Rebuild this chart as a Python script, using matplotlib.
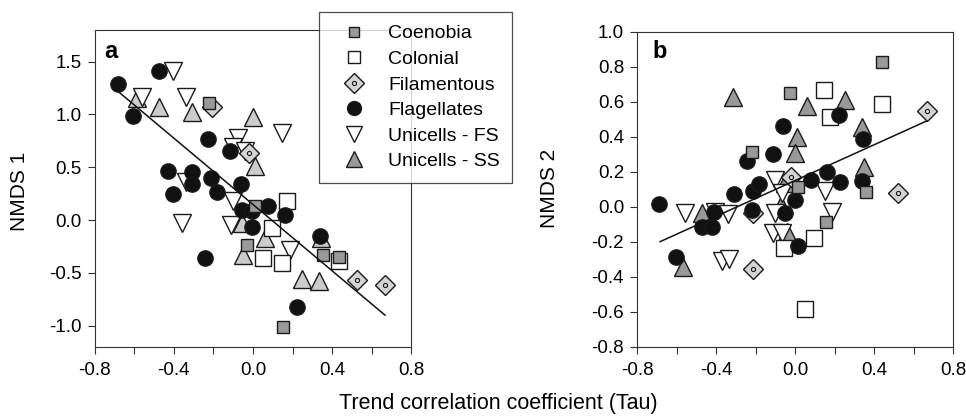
import matplotlib
matplotlib.use('Agg')
import matplotlib.pyplot as plt
from matplotlib.lines import Line2D
import numpy as np

plt.rcParams['font.family'] = ['Liberation Sans', 'DejaVu Sans']
plt.rcParams['font.size'] = 13.5

# --- panel a: Tau vs NMDS 1 ---
coen_a_x = [-0.221, 0.010, -0.029, 0.355, 0.436, 0.153]
coen_a_y = [1.107, 0.129, -0.233, -0.334, -0.353, -1.016]
colo_a_x = [0.173, 0.094, 0.049, 0.145, 0.436]
colo_a_y = [0.177, -0.076, -0.360, -0.407, -0.391]
fila_a_x = [-0.209, -0.019, 0.524, 0.667]
fila_a_y = [1.069, 0.634, -0.565, -0.612]
flag_a_x = [-0.680, -0.473, -0.605, -0.226, -0.116, -0.428, -0.310, -0.310, -0.406, -0.214,
            -0.184, -0.062, -0.057, -0.005, 0.077, 0.162, -0.003, -0.243, 0.339, 0.221]
flag_a_y = [1.287, 1.413, 0.981, 0.770, 0.656, 0.467, 0.454, 0.341, 0.246, 0.397,
            0.265, 0.341, 0.098, 0.085, 0.129, 0.050, -0.069, -0.360, -0.155, -0.826]
ufs_a_x = [-0.406, -0.562, -0.339, -0.074, -0.103, -0.040, 0.148, -0.339, -0.360, -0.099, -0.111, 0.187]
ufs_a_y = [1.407, 1.164, 1.161, 0.776, 0.688, 0.656, 0.823, 0.360, -0.028, 0.177, -0.044, -0.281]
uss_a_x = [-0.588, -0.473, -0.310, -0.002, 0.010, -0.057, 0.061, -0.052, 0.246, 0.333, 0.344]
uss_a_y = [1.155, 1.066, 1.022, 0.972, 0.508, -0.028, -0.170, -0.328, -0.555, -0.580, -0.170]
fit_a = (0.147, -1.571)  # intercept, slope
fit_a_range = (-0.675, 0.667)

# --- panel b: Tau vs NMDS 2 ---
coen_b_x = [0.440, -0.027, -0.218, 0.012, 0.358, 0.155]
coen_b_y = [0.825, 0.651, 0.310, 0.114, 0.086, -0.090]
colo_b_x = [0.147, 0.439, 0.175, 0.095, -0.057, 0.049]
colo_b_y = [0.667, 0.587, 0.510, -0.177, -0.238, -0.587]
fila_b_x = [0.665, 0.522, -0.022, -0.213, -0.213]
fila_b_y = [0.549, 0.080, 0.171, -0.038, -0.358]
flag_b_x = [-0.689, -0.604, -0.471, -0.424, -0.410, -0.311, -0.243, -0.216, -0.182, -0.221, -0.111,
            -0.061, -0.052, -0.002, 0.015, 0.078, 0.159, 0.226, 0.223, 0.344, 0.336]
flag_b_y = [0.015, -0.286, -0.114, -0.114, -0.030, 0.072, 0.261, 0.091, 0.128, -0.019, 0.301,
            0.463, -0.034, 0.038, -0.223, 0.152, 0.200, 0.139, 0.524, 0.385, 0.149]
ufs_b_x = [-0.559, -0.407, -0.339, -0.370, -0.335, -0.103, -0.103, -0.111, -0.069, -0.069, 0.150, 0.184]
ufs_b_y = [-0.038, -0.029, -0.044, -0.310, -0.300, 0.152, -0.038, -0.152, -0.152, 0.076, 0.090, -0.029]
uss_b_x = [-0.314, -0.474, -0.570, 0.057, 0.251, 0.010, -0.002, 0.336, 0.348, -0.052, -0.074, -0.040]
uss_b_y = [0.625, -0.034, -0.347, 0.575, 0.610, 0.396, 0.305, 0.453, 0.229, 0.133, 0.010, -0.143]
fit_b = (0.150, 0.511)
fit_b_range = (-0.685, 0.665)

groups = ['Coenobia', 'Colonial', 'Filamentous', 'Flagellates', 'Unicells - FS', 'Unicells - SS']

GRAY = '#999999'
LIGHT = '#d4d4d4'
EDGE = '#1a1a1a'
styles = {
    'Coenobia': dict(marker='s', ms=8.5, mfc=GRAY),
    'Colonial': dict(marker='s', ms=11, mfc='white'),
    'Filamentous': dict(marker='D', ms=10, mfc=LIGHT),
    'Flagellates': dict(marker='o', ms=11, mfc='#111111'),
    'Unicells - FS': dict(marker='v', ms=13, mfc='white'),
    'Unicells - SS': dict(marker='^', ms=13, mfc=GRAY),
}
legend_ms = {'Coenobia': 7.5, 'Colonial': 9, 'Filamentous': 10,
             'Flagellates': 10, 'Unicells - FS': 12, 'Unicells - SS': 12}
ring = dict(ls='none', marker='o', ms=3, mfc=LIGHT, mec=EDGE, mew=0.8)


def draw_group(ax, name, xs, ys, z, fill=None):
    st = dict(styles[name])
    if fill is not None:
        st['mfc'] = fill
    ax.plot(xs, ys, ls='none', mec=EDGE, mew=1.0, zorder=z, **st)
    if name == 'Filamentous':
        # small ring in the middle of each diamond
        ax.plot(xs, ys, zorder=z + 0.1, **ring)


def style_axes(ax, ylim, yticks, ylabels):
    ax.set_xlim(-0.8, 0.8)
    ax.set_ylim(*ylim)
    ax.set_xticks(np.arange(-0.8, 0.81, 0.2))
    ax.set_xticklabels(['-0.8', '', '-0.4', '', '0.0', '', '0.4', '', '0.8'])
    ax.set_yticks(yticks)
    ax.set_yticklabels(ylabels)
    for s in ax.spines.values():
        s.set_color('#333333')
        s.set_linewidth(0.8)
    ax.tick_params(direction='out', length=5, width=0.8, color='#333333', labelsize=13.5)
    ax.tick_params(axis='x', pad=6)
    ax.tick_params(axis='y', pad=4.5)


def draw_panel(ax, data, fit, rng, uss_fill):
    order = ['Unicells - SS', 'Unicells - FS', 'Colonial', 'Filamentous', 'Flagellates', 'Coenobia']
    for i, name in enumerate(order):
        xs, ys = data[name]
        draw_group(ax, name, xs, ys, 3 + i, fill=uss_fill if name == 'Unicells - SS' else None)
    fx = np.array(rng)
    ax.plot(fx, fit[0] + fit[1] * fx, color='#111111', lw=1.1, zorder=20)


fig = plt.figure(figsize=(9.66, 4.17), dpi=100)
W, H = 966.0, 417.0
ax_a = fig.add_axes([94.7 / W, 1 - 346.7 / H, 316.6 / W, 316.7 / H])
ax_b = fig.add_axes([637.3 / W, 1 - 346.7 / H, 316.0 / W, 315.0 / H])

data_a = {
    'Coenobia': (coen_a_x, coen_a_y), 'Colonial': (colo_a_x, colo_a_y),
    'Filamentous': (fila_a_x, fila_a_y), 'Flagellates': (flag_a_x, flag_a_y),
    'Unicells - FS': (ufs_a_x, ufs_a_y), 'Unicells - SS': (uss_a_x, uss_a_y),
}
data_b = {
    'Coenobia': (coen_b_x, coen_b_y), 'Colonial': (colo_b_x, colo_b_y),
    'Filamentous': (fila_b_x, fila_b_y), 'Flagellates': (flag_b_x, flag_b_y),
    'Unicells - FS': (ufs_b_x, ufs_b_y), 'Unicells - SS': (uss_b_x, uss_b_y),
}

draw_panel(ax_a, data_a, fit_a, fit_a_range, '#cccccc')
draw_panel(ax_b, data_b, fit_b, fit_b_range, GRAY)

style_axes(ax_a, (-1.2, 1.8), [-1.0, -0.5, 0.0, 0.5, 1.0, 1.5],
           ['-1.0', '-0.5', '0.0', '0.5', '1.0', '1.5'])
style_axes(ax_b, (-0.8, 1.0), np.arange(-0.8, 1.01, 0.2),
           ['-0.8', '-0.6', '-0.4', '-0.2', '0.0', '0.2', '0.4', '0.6', '0.8', '1.0'])

# axis titles and panel letters
fig.text(19.5 / W, 1 - 191 / H, 'NMDS 1', rotation=90, ha='center', va='center', fontsize=15)
fig.text(549.5 / W, 1 - 188 / H, 'NMDS 2', rotation=90, ha='center', va='center', fontsize=15)
fig.text(498 / W, 1 - 403 / H, 'Trend correlation coefficient (Tau)', ha='center', va='center', fontsize=15.5)
fig.text(110.5 / W, 1 - 52 / H, 'a', ha='center', va='center', fontsize=17, fontweight='bold')
fig.text(659.7 / W, 1 - 52 / H, 'b', ha='center', va='center', fontsize=17, fontweight='bold')

# legend sits between the panels, over the corner of panel a
handles = []
for name in groups:
    st = dict(styles[name])
    st['ms'] = legend_ms[name]
    h = Line2D([], [], ls='none', mec=EDGE, mew=1.0, **st)
    if name == 'Filamentous':
        h = (h, Line2D([], [], **ring))
    handles.append(h)
leg = fig.legend(handles, groups, loc='upper left', bbox_to_anchor=(319 / W, 1 - 12.3 / H),
                 borderaxespad=0, frameon=True, fancybox=False, fontsize=14,
                 handletextpad=0.62, labelspacing=0.41, borderpad=0.64, handlelength=2.3)
leg.get_frame().set_edgecolor('#222222')
leg.get_frame().set_linewidth(0.9)
leg.set_zorder(50)

fig.savefig('out.png', dpi=100)
